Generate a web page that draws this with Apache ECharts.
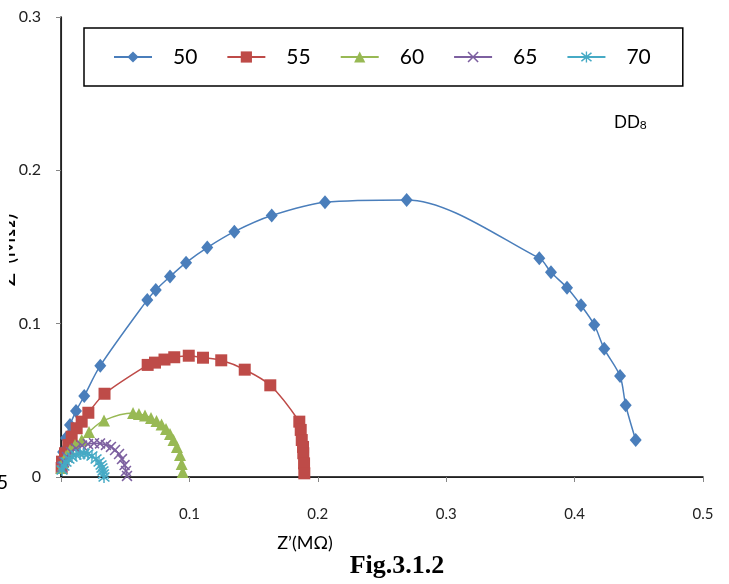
<!DOCTYPE html>
<html>
<head>
<meta charset="utf-8">
<script src="https://cdn.jsdelivr.net/npm/echarts@6/dist/echarts.min.js"></script>
<style>
  html, body { margin: 0; padding: 0; background: #fff; }
  #chart { width: 729px; height: 584px; }
</style>
</head>
<body>
<div id="chart"></div>
<script>
// Z' (x) and Z'' (y) in MOhm, one pair of arrays per temperature
var names = ['50', '55', '60', '65', '70'];
var colors = ['#4a7ebb', '#be4b48', '#98b954', '#7d60a0', '#46aac5'];

var re50 = [0.0008, 0.0016, 0.0039, 0.0070, 0.0117, 0.0181, 0.0306, 0.0672, 0.0738, 0.0849, 0.0974, 0.1139, 0.1350, 0.1641, 0.2056, 0.2692, 0.3725, 0.3816, 0.3941, 0.4050, 0.4153, 0.4231, 0.4354, 0.4398, 0.4476];
var im50 = [0.0078, 0.0163, 0.0254, 0.0339, 0.0430, 0.0528, 0.0726, 0.1155, 0.1220, 0.1307, 0.1398, 0.1496, 0.1600, 0.1705, 0.1792, 0.1807, 0.1427, 0.1335, 0.1235, 0.1120, 0.0993, 0.0836, 0.0658, 0.0468, 0.0241];

var re55 = [0.0005, 0.0008, 0.0031, 0.0057, 0.0083, 0.0122, 0.0161, 0.0213, 0.0339, 0.0675, 0.0732, 0.0806, 0.0882, 0.0995, 0.1106, 0.1248, 0.1431, 0.1630, 0.1856, 0.1867, 0.1875, 0.1885, 0.1887, 0.1893, 0.1895];
var im55 = [0.0059, 0.0100, 0.0155, 0.0209, 0.0263, 0.0318, 0.0361, 0.0419, 0.0543, 0.0731, 0.0746, 0.0766, 0.0781, 0.0791, 0.0778, 0.0761, 0.0700, 0.0598, 0.0361, 0.0307, 0.0241, 0.0196, 0.0155, 0.0089, 0.0024];

var re60 = [0.0004, 0.0016, 0.0039, 0.0070, 0.0109, 0.0161, 0.0218, 0.0335, 0.0561, 0.0607, 0.0654, 0.0701, 0.0744, 0.0783, 0.0818, 0.0849, 0.0876, 0.0903, 0.0927, 0.0940, 0.0948];
var im60 = [0.0059, 0.0098, 0.0137, 0.0176, 0.0209, 0.0241, 0.0294, 0.0369, 0.0417, 0.0411, 0.0401, 0.0385, 0.0365, 0.0342, 0.0313, 0.0280, 0.0241, 0.0196, 0.0144, 0.0085, 0.0033];

var re65 = [0.0008, 0.0023, 0.0047, 0.0078, 0.0117, 0.0164, 0.0210, 0.0257, 0.0304, 0.0350, 0.0389, 0.0421, 0.0452, 0.0475, 0.0495, 0.0506, 0.0514];
var im65 = [0.0065, 0.0098, 0.0130, 0.0163, 0.0186, 0.0205, 0.0215, 0.0220, 0.0219, 0.0209, 0.0196, 0.0176, 0.0150, 0.0117, 0.0078, 0.0039, 0.0007];

var re70 = [0.0008, 0.0023, 0.0039, 0.0062, 0.0086, 0.0117, 0.0148, 0.0179, 0.0210, 0.0241, 0.0273, 0.0296, 0.0312, 0.0319, 0.0327, 0.0331, 0.0335];
var im70 = [0.0046, 0.0072, 0.0098, 0.0117, 0.0130, 0.0144, 0.0150, 0.0153, 0.0150, 0.0137, 0.0117, 0.0098, 0.0078, 0.0059, 0.0039, 0.0020, 0.0000];

var xTicks = [0, 0.1, 0.2, 0.3, 0.4, 0.5];
var yTicks = [0, 0.1, 0.2, 0.3];

var reList = [re50, re55, re60, re65, re70];
var imList = [im50, im55, im60, im65, im70];

// markers: diamond, square, triangle, x, asterisk
var crossPath = 'path://M0,1L1,0L5,4L9,0L10,1L6,5L10,9L9,10L5,6L1,10L0,9L4,5Z';
var starPath = 'path://M0,1L1,0L5,4L9,0L10,1L6,5L10,9L9,10L5,6L1,10L0,9L4,5Z M4.4,-1L5.6,-1L5.6,11L4.4,11Z';
var symbols = ['diamond', 'rect', 'triangle', crossPath, starPath];
var sizes = [[12, 14], 12, 12, 11, 12];

function pairs(xs, ys) {
    var out = [];
    for (var i = 0; i < xs.length; i++) {
        out.push([xs[i], ys[i]]);
    }
    return out;
}

var series = [];
for (var i = 0; i < names.length; i++) {
    series.push({
        name: names[i],
        type: 'line',
        smooth: 0.3,
        symbol: symbols[i],
        symbolSize: sizes[i],
        showAllSymbol: true,
        itemStyle: { color: colors[i] },
        lineStyle: { color: colors[i], width: 1.5 },
        data: pairs(reList[i], imList[i])
    });
}

var chart = echarts.init(document.getElementById('chart'));
var labelFont = 'Lato';

var option = {
    backgroundColor: '#fff',
    animation: false,
    grid: { left: 61, right: 26, top: 17, bottom: 107 },
    legend: {
        left: 84,
        top: 28,
        orient: 'horizontal',
        padding: [18, 32, 18, 29],
        borderColor: '#000',
        borderWidth: 1.5,
        itemWidth: 38,
        itemHeight: 14,
        itemGap: 29,
        textStyle: {
            fontFamily: labelFont,
            fontSize: 21,
            color: '#000',
            lineHeight: 22,
            padding: [0, 0, 0, 16]
        },
        data: names
    },
    xAxis: [{
        type: 'value',
        min: xTicks[0],
        max: xTicks[xTicks.length - 1],
        interval: 0.1,
        axisLine: { lineStyle: { color: '#868686', width: 1.2 } },
        axisTick: { show: true, length: 5, lineStyle: { color: '#868686' } },
        splitLine: { show: false },
        axisLabel: {
            margin: 30,
            fontFamily: labelFont,
            fontSize: 15,
            color: '#222',
            formatter: function (v) { return v === 0 ? '' : String(Math.round(v * 10) / 10); }
        }
    }, {
        type: 'value',
        position: 'top',
        min: 0,
        max: 0.5,
        axisLine: { show: true, lineStyle: { color: '#000', width: 1.5 } },
        axisTick: { show: false },
        axisLabel: { show: false },
        splitLine: { show: false }
    }],
    yAxis: [{
        type: 'value',
        min: yTicks[0],
        max: yTicks[yTicks.length - 1],
        interval: 0.1,
        axisLine: { show: true, lineStyle: { color: '#868686', width: 1.2 } },
        axisTick: { show: true, length: 5, lineStyle: { color: '#868686' } },
        splitLine: { show: false },
        axisLabel: {
            margin: 20,
            fontFamily: labelFont,
            fontSize: 16,
            color: '#222',
            formatter: function (v) { return String(Math.round(v * 10) / 10); }
        }
    }, {
        type: 'value',
        position: 'right',
        min: 0,
        max: 0.3,
        axisLine: { show: true, lineStyle: { color: '#000', width: 1.5 } },
        axisTick: { show: false },
        axisLabel: { show: false },
        splitLine: { show: false }
    }],
    graphic: [
        {
            type: 'text',
            left: 614,
            top: 114,
            style: {
                text: '{a|DD}{b|8}',
                rich: {
                    a: { fontFamily: labelFont, fontSize: 17, fill: '#000' },
                    b: { fontFamily: labelFont, fontSize: 12, fill: '#000', padding: [6, 0, 0, 0] }
                }
            }
        },
        {
            type: 'text',
            x: 8,
            y: 250,
            rotation: Math.PI / 2,
            style: {
                text: 'Z\u2019\u2019(M\u03a9)',
                fontFamily: labelFont,
                fontSize: 22,
                fill: '#000',
                align: 'center',
                verticalAlign: 'middle'
            }
        },
        // the left part of the y title is cut off in the source picture
        {
            type: 'rect',
            shape: { x: 0, y: 170, width: 9, height: 150 },
            style: { fill: '#fff' },
            z: 100
        },
        {
            type: 'text',
            x: -3,
            y: 483,
            style: {
                text: '5',
                fontFamily: labelFont,
                fontSize: 19,
                fill: '#000',
                verticalAlign: 'middle'
            }
        },
        {
            type: 'text',
            x: 305,
            y: 543,
            style: {
                text: 'Z\u2019(M\u03a9)',
                fontFamily: labelFont,
                fontSize: 18,
                fill: '#000',
                align: 'center',
                verticalAlign: 'middle'
            }
        },
        {
            type: 'text',
            x: 397,
            y: 566,
            style: {
                text: 'Fig.3.1.2',
                fontFamily: 'Liberation Serif',
                fontWeight: 'bold',
                fontSize: 26,
                fill: '#000',
                align: 'center',
                verticalAlign: 'middle'
            }
        }
    ],
    series: series
};

chart.setOption(option);
</script>
</body>
</html>
